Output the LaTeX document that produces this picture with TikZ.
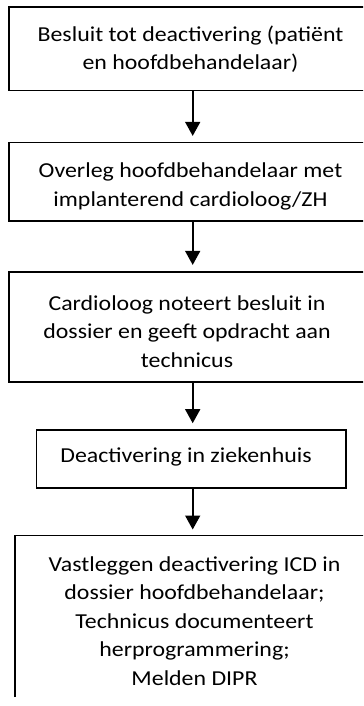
\documentclass[tikz,border=0pt]{standalone}
\usepackage{fontspec}
\setmainfont{Carlito}[FakeStretch=1.12]
\usetikzlibrary{arrows.meta}
\begin{document}
\begin{tikzpicture}[x=1bp,y=-1bp,
  flowbox/.style={draw=black, line width=1.6bp, rectangle, inner sep=0pt},
  openbox/.style={rectangle, inner sep=0pt},
  flowtext/.style={inner sep=0pt, align=center,
    font=\fontsize{21.3bp}{28.5bp}\selectfont},
  flowarrow/.style={line width=1.6bp, -{Triangle[width=15bp,length=14bp]}, shorten >=6bp}]
\useasboundingbox (0,0) rectangle (363,706);
\clip (0,0) rectangle (363,706);
\fill[white] (0,0) rectangle (363,706);
\coordinate (ax) at (192.7,0);
% boxes
\node[flowbox, minimum width=362bp, minimum height=83.4bp] (b1) at (190,49) {};
\node[flowbox, minimum width=362bp, minimum height=78bp] (b2) at (190,181.7) {};
\node[flowbox, minimum width=362bp, minimum height=110bp] (b3) at (190,326.7) {};
\node[flowbox, minimum width=309bp, minimum height=57.7bp] (b4) at (191.2,458.85) {};
\node[openbox, minimum width=359bp, minimum height=161.3bp] (b5) at (194.5,616.35) {};
\draw[line width=1.6bp] (b5.south west) -- (b5.north west) -- (b5.north east);
% texts
\node[flowtext] (t1) at (190.5,49)
  {Besluit tot deactivering (patiënt\\en hoofdbehandelaar)};
\node[flowtext] (t2) at (190.5,186.5)
  {Overleg hoofdbehandelaar met\\implanterend cardioloog/ZH};
\node[flowtext] (t3) at (187,331.5)
  {Cardioloog noteert besluit in\\dossier en geeft opdracht aan\\technicus};
\node[flowtext] (t4) at (186,457)
  {Deactivering in ziekenhuis};
\node[flowtext] (t5) at (194.5,621)
  {Vastleggen deactivering ICD in\\dossier hoofdbehandelaar;\\Technicus documenteert\\herprogrammering;\\Melden DIPR};
% connectors
\draw[flowarrow] (b1.south -| ax) -- (b2.north -| ax);
\draw[flowarrow] (b2.south -| ax) -- (b3.north -| ax);
\draw[flowarrow] (b3.south -| ax) -- (b4.north -| ax);
\draw[flowarrow] (b4.south -| ax) -- (b5.north -| ax);
\end{tikzpicture}
\end{document}
